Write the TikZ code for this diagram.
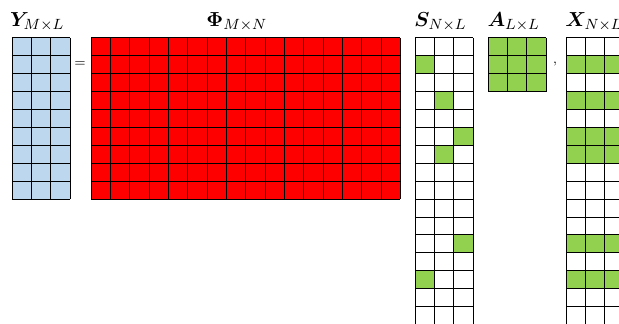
\documentclass[tikz,border=0pt]{standalone}
\usepackage{amsmath}
\usepackage{amssymb}
\usepackage{bm}
\usepackage{xcolor}
\usetikzlibrary{positioning, calc}

\definecolor{ylightblue}{HTML}{BDD7EE}
\definecolor{phired}{HTML}{FF0000}
\definecolor{sgreen}{HTML}{92D050}

\begin{document}
\begin{tikzpicture}[
    x=10.44pt, y=-9.67pt,
    gridline/.style={draw=black, line width=0.5pt},
    matlabel/.style={anchor=base west, inner sep=0pt, font=\fontsize{10.8}{13}\selectfont},
    sign/.style={inner sep=0pt, font=\scriptsize}
]

\useasboundingbox (0,0) rectangle (32.02,18.04);
\clip (0,0) rectangle (32.02,18.04);

% Measurements Y
\begin{scope}[shift={(0.62,2.12)}]
\fill[ylightblue] (0,0) rectangle (3,9);
\foreach \c in {0,...,3} \draw[gridline] (\c,0) -- (\c,9);
\foreach \r in {0,...,9} \draw[gridline] (0,\r) -- (3,\r);
\end{scope}
\node[matlabel] (ylabel) at (0.5,1.46) {$\boldsymbol{Y}_{M\times L}$};

% Equals sign
\node[sign] (eq) at (4.14,3.58) {$=$};

% Sensing matrix Phi
\begin{scope}[shift={(4.71,2.12)}]
\fill[phired] (0,0) rectangle (16,9);
\foreach \c in {0,...,16} \draw[gridline] (\c,0) -- (\c,9);
\foreach \r in {0,...,9} \draw[gridline] (0,\r) -- (16,\r);
\end{scope}
\node[matlabel, anchor=base] (philabel) at (12.25,1.46) {$\boldsymbol{\Phi}_{M\times N}$};

% Support S
\begin{scope}[shift={(21.47,2.12)}]
\foreach \c/\r in {0/1, 1/3, 2/5, 1/6, 2/11, 0/13}
    \fill[sgreen] (\c,\r) rectangle ++(1,1);
\foreach \c in {0,...,3} \draw[gridline] (\c,0) -- (\c,16);
\foreach \r in {0,...,16} \draw[gridline] (0,\r) -- (3,\r);
\end{scope}
\node[matlabel] (slabel) at (21.42,1.46) {$\boldsymbol{S}_{N\times L}$};

% Coefficients A
\begin{scope}[shift={(25.25,2.12)}]
\fill[sgreen] (0,0) rectangle (3,3);
\foreach \c in {0,...,3} \draw[gridline] (\c,0) -- (\c,3);
\foreach \r in {0,...,3} \draw[gridline] (0,\r) -- (3,\r);
\end{scope}
\node[matlabel] (alabel) at (25.2,1.46) {$\boldsymbol{A}_{L\times L}$};

% Comma
\node[sign, anchor=base] (comma) at (28.71,3.52) {$,$};

% Signal X
\begin{scope}[shift={(29.28,2.12)}]
\foreach \r in {1, 3, 5, 6, 11, 13}
    \fill[sgreen] (0,\r) rectangle ++(3,1);
\foreach \c in {0,...,3} \draw[gridline] (\c,0) -- (\c,16);
\foreach \r in {0,...,16} \draw[gridline] (0,\r) -- (3,\r);
\end{scope}
\node[matlabel] (xlabel) at (29.23,1.46) {$\boldsymbol{X}_{N\times L}$};

\end{tikzpicture}
\end{document}
